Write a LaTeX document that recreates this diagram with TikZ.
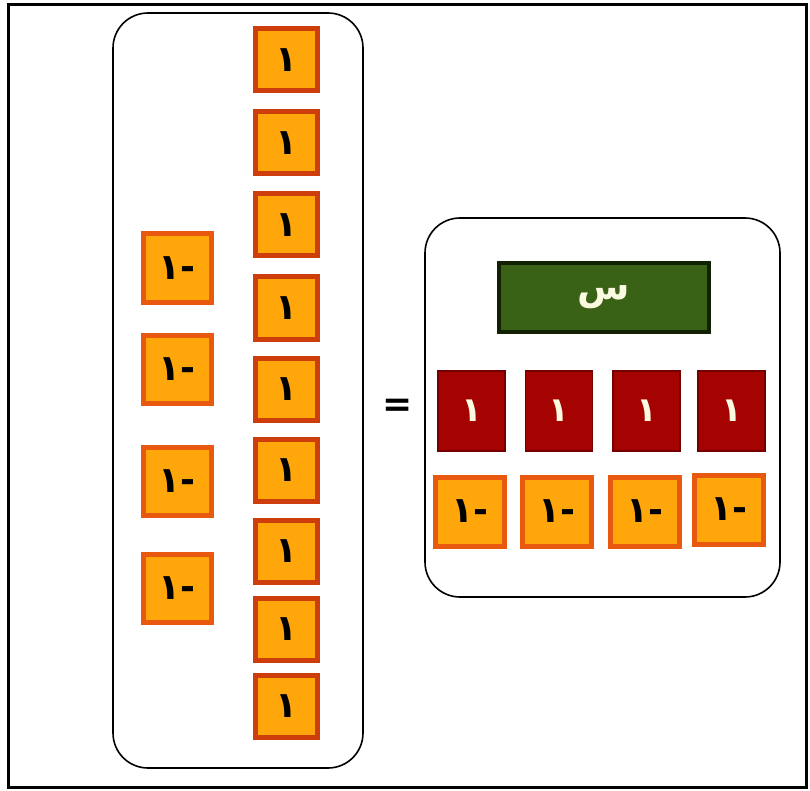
\documentclass[tikz,border=0pt]{standalone}
\usepackage{fontspec}
\setmainfont{DejaVu Sans}
\newfontfamily\arabicfont[Script=Arabic]{DejaVu Sans}
\TeXXeTstate=1
\definecolor{tileorange}{RGB}{255,166,10}
\definecolor{tileedge}{RGB}{232,88,14}
\definecolor{tileedgedark}{RGB}{205,62,12}
\definecolor{redfill}{RGB}{165,2,2}
\definecolor{rededge}{RGB}{115,0,0}
\definecolor{greenfill}{RGB}{58,98,22}
\definecolor{greenedge}{RGB}{18,32,4}
\definecolor{cream}{RGB}{250,250,225}
\begin{document}
\begin{tikzpicture}[x=1pt,y=-1pt,
  posone/.style={draw=tileedgedark,fill=tileorange,line width=5pt,minimum width=62pt,minimum height=62pt,inner sep=0pt,
    font=\arabicfont\bfseries\fontsize{36}{36}\selectfont},
  negone/.style={draw=tileedge,fill=tileorange,line width=5pt,minimum width=68pt,minimum height=68pt,inner sep=0pt,
    font=\arabicfont\bfseries\fontsize{36}{36}\selectfont},
  redtile/.style={draw=rededge,fill=redfill,line width=1.5pt,minimum width=67pt,minimum height=80pt,inner sep=0pt,
    text=cream,font=\arabicfont\bfseries\fontsize{34}{34}\selectfont},
  greentile/.style={draw=greenedge,fill=greenfill,line width=4pt,minimum width=210pt,minimum height=69pt,inner sep=0pt,
    text=cream,font=\arabicfont\bfseries\fontsize{38}{38}\selectfont},
  panel/.style={draw=black,line width=1.6pt,rounded corners=35pt}]
\useasboundingbox (0,0) rectangle (810,791);
\draw[line width=3pt] (8,5) rectangle (806,787);
% panels
\draw[panel] (113,13) rectangle (363,768);
\draw[panel] (425,218) rectangle (780,597);
% right column of +1 tiles
\foreach \i/\y in {1/60,2/143,3/225,4/308,5/389,6/470,7/551,8/629,9/706}{
  \node[posone] (p\i) at (286.5,\y) {\beginR ١\endR};
}
% left column of -1 tiles
\foreach \i/\y in {1/268,2/369,3/481,4/588}{
  \node[negone] (n\i) at (177,\y) {\beginR -١\endR};
}
% equals sign
\node[font=\bfseries\fontsize{36}{36}\selectfont] (eq) at (398,408) {=};
% x tile
\node[greentile] (x) at (604,297.5) {\beginR س\endR};
% red +1 tiles
\foreach \i/\xx in {1/471.5,2/559,3/646.5,4/731.5}{
  \node[redtile] (r\i) at (\xx,411) {\beginR ١\endR};
}
% -1 tiles in right panel
\foreach \i/\xx/\y in {1/470/511.5,2/556.5/511.5,3/644.5/511.5,4/729/509.5}{
  \node[negone,minimum width=69pt,minimum height=69pt] (m\i) at (\xx,\y) {\beginR -١\endR};
}
\end{tikzpicture}
\end{document}
